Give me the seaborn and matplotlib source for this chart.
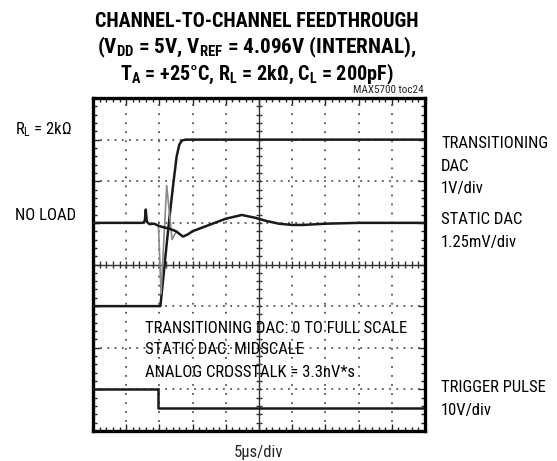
import numpy as np
import pandas as pd
import matplotlib
matplotlib.use('Agg')
import matplotlib.pyplot as plt
import seaborn as sns
from matplotlib.ticker import MultipleLocator

# scope traces, in screen divisions (x: 10 div @ 5us/div, y: 8 div)
trans_t = [0.0, 2.03, 2.12, 2.22, 2.32, 2.42, 2.52, 2.6, 2.68, 2.8, 3.0, 10.0]
trans_v = [3.0, 3.0, 3.7, 4.5, 5.25, 5.95, 6.6, 6.88, 6.98, 7.0, 7.0, 7.0]

static_t = [0.0, 1.5, 1.56, 1.59, 1.62, 1.7, 1.85, 1.97, 2.1, 2.3, 2.5, 2.71,
            2.85, 3.0, 3.5, 4.0, 4.48, 4.9, 5.2, 5.6, 6.0, 6.33, 7.0, 8.0, 10.0]
static_v = [5.0, 5.0, 5.05, 5.32, 5.03, 4.97, 4.98, 4.93, 4.9, 4.86, 4.8, 4.67,
            4.72, 4.8, 4.95, 5.1, 5.19, 5.12, 5.05, 4.98, 4.95, 4.95, 4.98, 5.0, 5.0]

glitch_t = [1.97, 2.05, 2.22, 2.38, 2.5]
glitch_v = [4.95, 3.3, 5.9, 4.6, 4.78]

trig_t = [0.0, 1.97, 1.97, 10.0]
trig_v = [1.0, 1.0, 0.55, 0.55]

sns.set_theme(style='white')
plt.rcParams['font.family'] = ['Roboto Condensed', 'Archivo Narrow', 'DejaVu Sans']
plt.rcParams['mathtext.default'] = 'regular'

fig = plt.figure(figsize=(5.57, 4.61), dpi=100)
ax = fig.add_axes([93/557, 1 - 431/461, 332/557, 333/461])

# graticule
for k in range(1, 10):
    if k == 5:
        ax.axvline(k, color='#333333', lw=1.0, zorder=1)
    else:
        ax.axvline(k, color='#555555', lw=1.3, ls=(0, (1, 4)), zorder=1)
for k in range(1, 8):
    if k == 4:
        ax.axhline(k, color='#333333', lw=1.0, zorder=1)
    else:
        ax.axhline(k, color='#555555', lw=1.3, ls=(0, (1, 3)), zorder=1)
minor_x = np.arange(0.2, 10, 0.2)
minor_y = np.arange(0.2, 8, 0.2)
ax.vlines(minor_x, 4 - 0.08, 4 + 0.08, color='#333333', lw=1.0, zorder=1)
ax.hlines(minor_y, 5 - 0.1, 5 + 0.1, color='#333333', lw=1.0, zorder=1)

traces = [
    (trans_t, trans_v, '#1a1a1a', 1.8),
    (glitch_t, glitch_v, '#8a8a8a', 1.2),
    (static_t, static_v, '#1a1a1a', 1.8),
    (trig_t, trig_v, '#1a1a1a', 1.8),
]
for t, v, c, w in traces:
    df = pd.DataFrame({'t': t, 'v': v})
    sns.lineplot(data=df, x='t', y='v', sort=False, estimator=None,
                 color=c, lw=w, ax=ax, zorder=3)

ax.set_xlim(0, 10)
ax.set_ylim(0, 8)
ax.set_xlabel('')
ax.set_ylabel('')
ax.xaxis.set_major_locator(MultipleLocator(1))
ax.yaxis.set_major_locator(MultipleLocator(1))
ax.xaxis.set_minor_locator(MultipleLocator(0.2))
ax.yaxis.set_minor_locator(MultipleLocator(0.2))
ax.tick_params(which='both', direction='in', top=True, right=True,
               bottom=True, left=True, labelbottom=False, labelleft=False,
               color='#222222', width=1.0)
ax.tick_params(which='major', length=5)
ax.tick_params(which='minor', length=3)
for s in ax.spines.values():
    s.set_linewidth(2.4)
    s.set_color('black')

# title
tkw = dict(ha='center', va='baseline', fontsize=14.5, fontweight='heavy', color='black')
fig.text(257/557, 1 - 27/461, 'CHANNEL-TO-CHANNEL FEEDTHROUGH', **tkw)
fig.text(257/557, 1 - 53/461, '(V$_{DD}$ = 5V, V$_{REF}$ = 4.096V (INTERNAL),',
         **dict(tkw, fontsize=15.2))
fig.text(257/557, 1 - 80/461, 'T$_A$ = +25°C, R$_L$ = 2kΩ, C$_L$ = 200pF)', **tkw)
fig.text(424/557, 1 - 90/461, 'MAX5700 toc24', ha='right', va='center', fontsize=8)

lkw = dict(ha='left', va='center', fontsize=12, color='black')
fig.text(15/557, 1 - 130/461, 'R$_L$ = 2kΩ', **lkw)
fig.text(15/557, 1 - 215/461, 'NO LOAD', **lkw)

fig.text(441/557, 1 - 143/461, 'TRANSITIONING', **lkw)
fig.text(441/557, 1 - 166/461, 'DAC', **lkw)
fig.text(441/557, 1 - 188/461, '1V/div', **lkw)
fig.text(441/557, 1 - 219/461, 'STATIC DAC', **lkw)
fig.text(441/557, 1 - 242/461, '1.25mV/div', **lkw)
fig.text(441/557, 1 - 387/461, 'TRIGGER PULSE', **lkw)
fig.text(441/557, 1 - 410/461, '10V/div', **lkw)

fig.text(145/557, 1 - 328/461, 'TRANSITIONING DAC: 0 TO FULL SCALE', **lkw)
fig.text(145/557, 1 - 350/461, 'STATIC DAC: MIDSCALE', **lkw)
fig.text(145/557, 1 - 372/461, 'ANALOG CROSSTALK = 3.3nV*s', **lkw)

fig.text(259/557, 1 - 452/461, '5µs/div', ha='center', va='center', fontsize=12)

fig.savefig('out.png', dpi=100)
